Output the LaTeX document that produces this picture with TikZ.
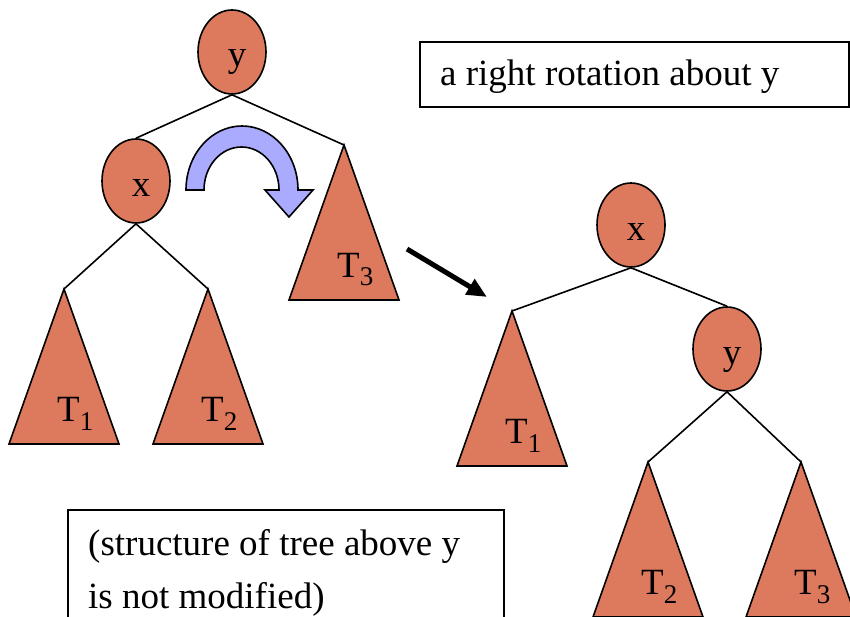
\documentclass[tikz,border=0pt]{standalone}
\usepackage{fontspec}
\setmainfont{Liberation Serif}
\usetikzlibrary{shapes.geometric, arrows.meta, calc}
\definecolor{treeorange}{RGB}{221,121,92}
\definecolor{turnblue}{RGB}{170,170,255}
\newcommand{\tsub}[1]{\raisebox{-9pt}{\fontsize{27}{27}\selectfont #1}}

\tikzset{
  keynode/.style={ellipse, draw, line width=1.6pt, fill=treeorange, minimum width=68pt, minimum height=84pt, inner sep=0pt},
  keylabel/.style={anchor=base, inner sep=0pt, font=\fontsize{37}{37}\selectfont},
  branch/.style={line width=1.6pt},
  subtree/.style={draw, line width=1.6pt, fill=treeorange},
  infobox/.style={draw, line width=1.6pt},
  infotext/.style={anchor=base west, inner sep=0pt, font=\fontsize{37}{37}\selectfont},
}

\begin{document}
\begin{tikzpicture}[x=1pt, y=-1pt]
  \useasboundingbox (0,0) rectangle (850,617);

  % subtrees: name / apex x / apex y / index
  \foreach \name/\ax/\ay/\idx in {tl1/64/289/1, tl2/208/289/2, tl3/344/145/3,
                                  tr1/512/311/1, tr2/648/462/2, tr3/801/462/3} {
    \coordinate (\name) at (\ax,\ay);
    \draw[subtree] (\name) -- ++(-55,155) -- ++(110,0) -- cycle;
    \node[keylabel, anchor=base west] (\name-lbl) at ($(\name)+(-7,132)$) {T\tsub{\idx}};
  }

  % tree before the rotation
  \node[keynode] (ytop) at (232,52) {};
  \node[keynode] (xleft) at (136,181) {};
  \node[keylabel] (ytop-lbl) at ($(ytop.center)+(5,15)$) {y};
  \node[keylabel] (xleft-lbl) at ($(xleft.center)+(5,16)$) {x};
  \draw[branch] (ytop.south) -- (xleft.north);
  \draw[branch] (ytop.south) -- (tl3);
  \draw[branch] (xleft.south) -- (tl1);
  \draw[branch] (xleft.south) -- (tl2);

  % turning arrow
  \draw[line width=1.6pt, fill=turnblue] (186,190)
    arc[start angle=180, end angle=0, x radius=56pt, y radius=64pt]
    -- (313,190) -- (289,217) -- (265,190) -- (279,190)
    arc[start angle=0, end angle=180, x radius=37.5pt, y radius=43pt] -- cycle;

  % tree after the rotation
  \node[keynode] (xright) at (631,225) {};
  \node[keynode] (yright) at (727,349) {};
  \node[keylabel] (xright-lbl) at ($(xright.center)+(5,16)$) {x};
  \node[keylabel] (yright-lbl) at ($(yright.center)+(5,15)$) {y};
  \draw[branch] (xright.south) -- (tr1);
  \draw[branch] (xright.south) -- (yright.north);
  \draw[branch] (yright.south) -- (tr2);
  \draw[branch] (yright.south) -- (tr3);

  % from before to after
  \coordinate (shiftfrom) at (407,249);
  \coordinate (shiftto) at (487,297);
  \draw[line width=5pt, -{Triangle[length=20pt, width=17pt]}] (shiftfrom) -- (shiftto);

  % captions
  \draw[infobox] (420,42) rectangle (849,107);
  \node[infotext] (title) at (440,86) {a right rotation about y};
  \draw[infobox] (68,510) rectangle (504,640);
  \node[infotext] (note1) at (88,555) {(structure of tree above y};
  \node[infotext] (note2) at (88,608) {is not modified)};
\end{tikzpicture}
\end{document}
